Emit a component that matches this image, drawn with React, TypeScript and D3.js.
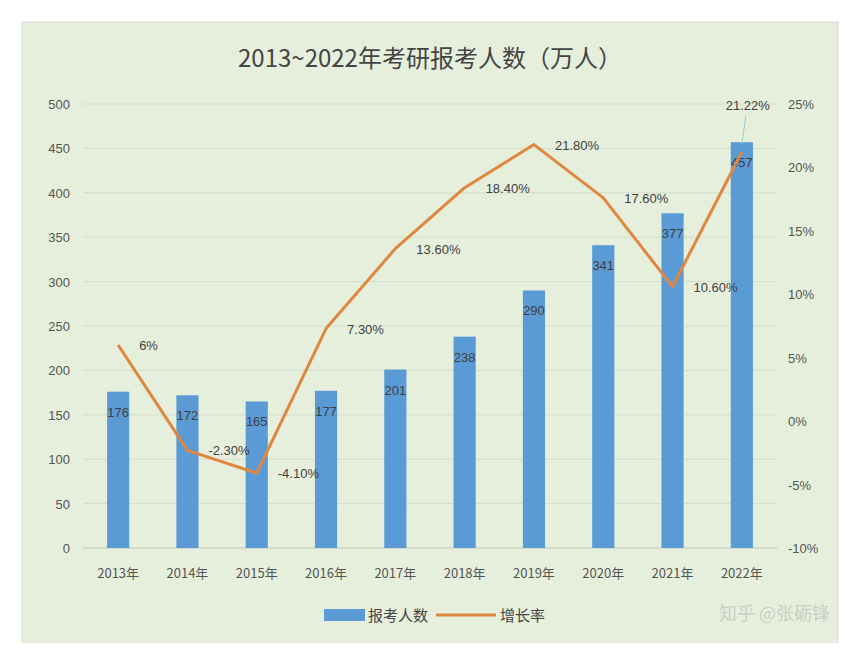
import React from "react";
import * as d3 from "d3";

const years = ["2013年","2014年","2015年","2016年","2017年","2018年","2019年","2020年","2021年","2022年"];
const applicants = [176,172,165,177,201,238,290,341,377,457];
const growth = [6,-2.3,-4.1,7.3,13.6,18.4,21.8,17.6,10.6,21.22];
const growthLabels = ["6%","-2.30%","-4.10%","7.30%","13.60%","18.40%","21.80%","17.60%","10.60%","21.22%"];
const leftTicks = [0,50,100,150,200,250,300,350,400,450,500];
const rightTicks = [-10,-5,0,5,10,15,20,25];

export default function App() {
  const W = 850, H = 651;
  const x = d3.scaleBand().domain(years).range([83.5, 776.5]).paddingInner(0.68).paddingOuter(0.34);
  const yL = d3.scaleLinear().domain([0, 500]).range([548, 104]);
  const yR = d3.scaleLinear().domain([-10, 25]).range([548, 104]);
  const cx = (i: number) => (x(years[i]) as number) + x.bandwidth() / 2;
  const line = d3.line<number>().x((_, i) => cx(i)).y(d => yR(d));
  const font = "'Liberation Sans', Arial, sans-serif";
  const cjk = "'Noto Sans CJK SC', sans-serif";
  return (
    <svg width={W} height={H} style={{ display: "block", margin: "-8px" }}>
      <rect x={0} y={0} width={W} height={H} fill="#fff" />
      <rect x={22} y={22} width={816} height={622} fill="#e6efdc" stroke="#d8d8d8" />
      <text x={430} y={67} textAnchor="middle" fontSize={24} fill="#444" fontFamily={cjk}>2013~2022年考研报考人数（万人）</text>
      {leftTicks.map(t => (
        <g key={t}>
          <line x1={83} x2={777} y1={yL(t)} y2={yL(t)} stroke={t === 0 ? "#bfc8b8" : "#d3dccb"} />
          <text x={70} y={yL(t) + 5} textAnchor="end" fontSize={13} fill="#555" fontFamily={font}>{t}</text>
        </g>
      ))}
      {rightTicks.map(t => (
        <text key={t} x={788} y={yR(t) + 5} fontSize={13} fill="#555" fontFamily={font}>{t}%</text>
      ))}
      {years.map((yr, i) => (
        <g key={yr}>
          <rect x={x(yr)} y={yL(applicants[i])} width={x.bandwidth()} height={548 - yL(applicants[i])} fill="#5b9bd5" />
          <text x={cx(i)} y={yL(applicants[i]) + 25} textAnchor="middle" fontSize={13} fill="#404040" fontFamily={font}>{applicants[i]}</text>
          <text x={cx(i)} y={578} textAnchor="middle" fontSize={13} fill="#555" fontFamily={cjk}>{yr}</text>
        </g>
      ))}
      <path d={line(growth) || ""} fill="none" stroke="#e0873f" strokeWidth={3} strokeLinejoin="round" />
      {growth.map((g, i) => i < growth.length - 1 ? (
        <text key={i} x={cx(i) + 21} y={yR(g) + 5} fontSize={13} fill="#404040" fontFamily={font}>{growthLabels[i]}</text>
      ) : (
        <g key={i}>
          <line x1={cx(i)} y1={yR(g) - 8} x2={cx(i) + 4} y2={yR(g) - 36} stroke="#9cc" />
          <text x={cx(i) + 6} y={yR(g) - 42} textAnchor="middle" fontSize={13} fill="#404040" fontFamily={font}>{growthLabels[i]}</text>
        </g>
      ))}
      <rect x={324} y={609} width={41} height={12} fill="#5b9bd5" />
      <text x={368} y={621} fontSize={15} fill="#444" fontFamily={cjk}>报考人数</text>
      <line x1={436} x2={496} y1={615} y2={615} stroke="#e0873f" strokeWidth={3} />
      <text x={500} y={621} fontSize={15} fill="#444" fontFamily={cjk}>增长率</text>
      <text x={830} y={620} textAnchor="end" fontSize={18} fill="#c9cfc4" fontFamily={cjk}>知乎 @张砺锋</text>
    </svg>
  );
}
